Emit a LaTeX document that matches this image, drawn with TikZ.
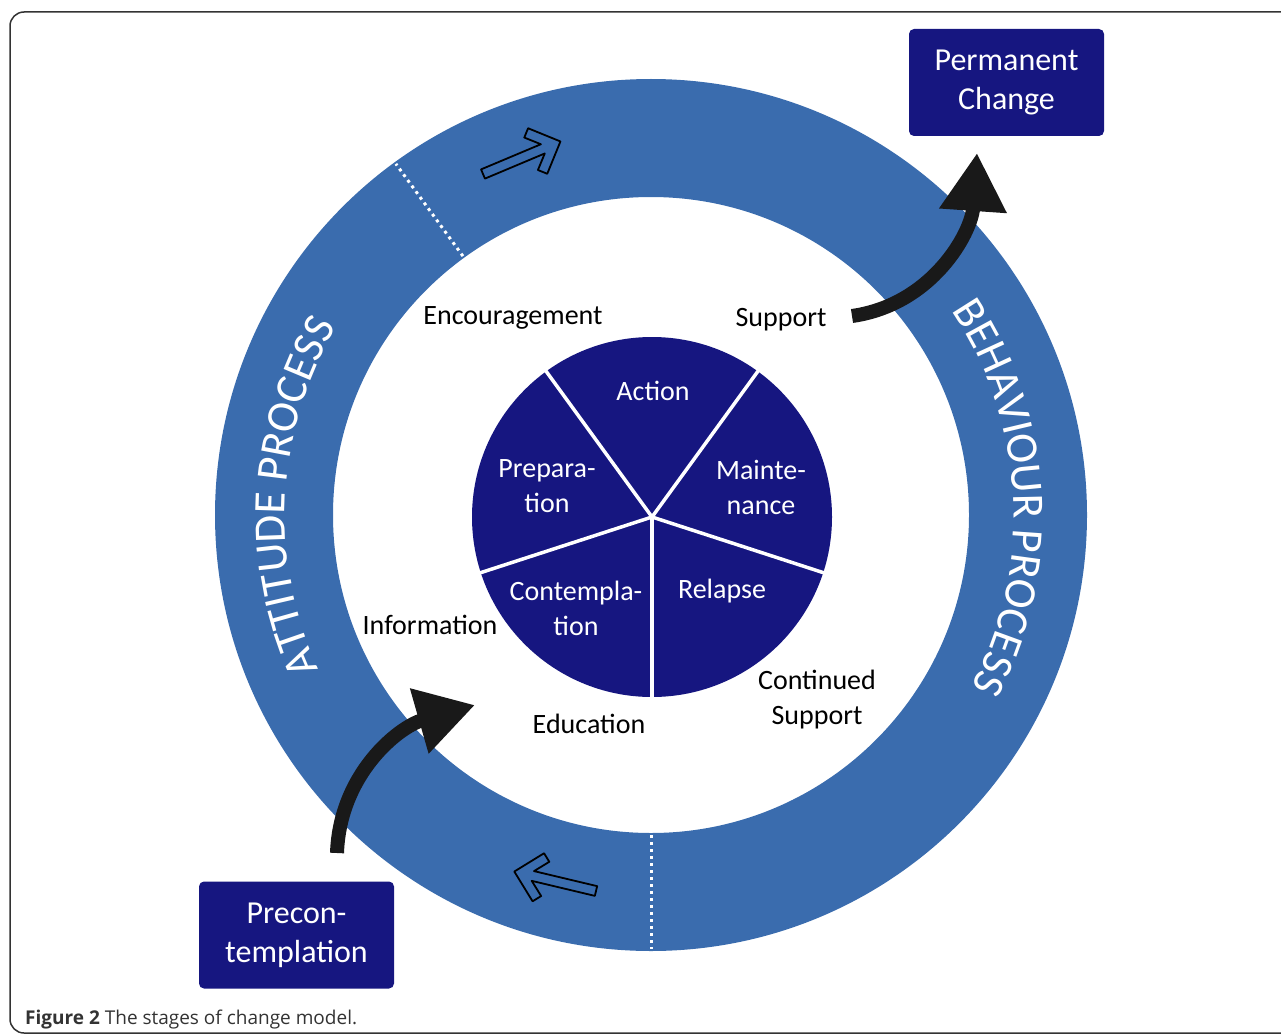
\documentclass[tikz,border=0pt]{standalone}
\usepackage{fontspec}
\setmainfont{Carlito}
\newfontfamily\capfont{Open Sans}
\usetikzlibrary{
    arrows.meta,     % Heavy triangle tips on the curved arrows.
    calc,            % Points on the ring measured from its centre.
    decorations.text % Ring titles set along the arc.
}

\definecolor{ringblue}{RGB}{58,108,174}
\definecolor{stagenavy}{RGB}{22,22,128}
\newcommand{\ringfont}{\fontsize{45}{52}\selectfont}

\tikzset{
    stagebox/.style = {fill = stagenavy, text = white, rounded corners = 5pt,
        minimum width = 195pt, minimum height = 107pt, align = center,
        font = \fontsize{32}{39}\selectfont},
    stagelabel/.style = {text = white, align = center, inner sep = 0pt,
        font = \fontsize{28}{35}\selectfont},
    helplabel/.style = {text = black, align = center, inner sep = 0pt,
        font = \fontsize{28}{35}\selectfont},
    bigarrow/.style = {line width = 14pt, draw = black!90,
        -{Triangle[length = 58pt, width = 64pt]}},
    ringsplit/.style = {draw = white, line width = 3pt,
        dash pattern = on 3pt off 4pt},
    hollowarrow/.pic = {
        \draw[fill = ringblue, draw = black, line width = 1.8pt, line join = round]
            (0,5) -- (64.9,5) -- (52.2,17.6) -- (59.3,24.7) -- (84,0)
            -- (59.3,-24.7) -- (52.2,-17.6) -- (64.9,-5) -- (0,-5) -- cycle;
    }
}

\begin{document}
\begin{tikzpicture}[%
        x = 1pt, y = -1pt,
        line cap = butt
    ]

        % Page size and the frame round the figure.
        \useasboundingbox (0,0) rectangle (1281,1035);
        \clip (0,0) rectangle (1281,1035);
        \draw[line width = 1.5pt, draw = black!80, rounded corners = 14pt]
            (10,12) rectangle (1300,1033);

        % Centres of the ring and of the pie.
        \coordinate (ctr) at (651,515);
        \coordinate (pie) at (652,517);

        % The blue ring.
        \fill[ringblue, even odd rule] (ctr) circle (436pt) (ctr) circle (318pt);

        % Dotted splits between the two processes.
        \draw[ringsplit] ($(ctr) + (126:320pt)$) -- ($(ctr) + (126:434pt)$);
        \draw[ringsplit] ($(ctr) + (270:320pt)$) -- ($(ctr) + (270:434pt)$);

        % Ring titles along the arc.
        \path[decorate, decoration = {text along path,
                text = {|\ringfont|ATTITUDE PROCESS},
                text align = center, text color = white}]
            ($(ctr) + (219:366pt)$) arc[start angle = 219, end angle = 135, radius = 366pt];
        \path[decorate, decoration = {text along path,
                text = {|\ringfont|BEHAVIOUR PROCESS},
                text align = center, text color = white}]
            ($(ctr) + (45:363pt)$) arc[start angle = 45, end angle = -39, radius = 363pt];

        % Hollow arrows showing the way round.
        \pic[rotate = 22.8] at (483,174) {hollowarrow};
        \pic[rotate = 166.6] at (596,891) {hollowarrow};

        % The pie of stages.
        \fill[stagenavy] (pie) circle (180pt);
        \foreach \ang in {54,126,198,270,342}
            \draw[white, line width = 3.5pt] (pie) -- ++(\ang:181pt);

        % Stage names in the pie.
        \node[stagelabel] (action) at (653,391) {Action};
        \node[stagelabel] (prep) at (547,486) {Prepara-\\tion};
        \node[stagelabel] (maint) at (761,487) {Mainte-\\nance};
        \node[stagelabel] (contemp) at (576,608) {Contempla-\\tion};
        \node[stagelabel] (relapse) at (722,591) {Relapse};

        % Help given at each step.
        \node[helplabel] (encourage) at (513,318) {Encouragement};
        \node[helplabel] (support) at (781,320) {Support};
        \node[helplabel] (info) at (430,625) {Information};
        \node[helplabel] (edu) at (589,724) {Education};
        \node[helplabel] (contsupport) at (817,700) {Continued\\Support};

        % Entry and exit boxes.
        \node[stagebox] (permanent) at (1006.5,82.5) {Permanent\\Change};
        \node[stagebox] (precon) at (296.5,935) {Precon-\\templation};

        % Ends of the heavy arrows.
        \coordinate (inStart) at (337,853);
        \coordinate (inTip) at (475,705);
        \coordinate (outStart) at (852,316);
        \coordinate (outTip) at (977,153);

        % Heavy arrows in and out of the cycle.
        \draw[bigarrow] (inStart) to[out = 88, in = 196] (inTip);
        \draw[bigarrow] (outStart) to[out = 8, in = 266] (outTip);

        % Caption.
        \node[anchor = base west, inner sep = 0pt, text = black!80,
              font = \capfont\fontsize{19}{23}\selectfont] (caption) at (25,1024)
            {\textbf{Figure 2} The stages of change model.};
    \end{tikzpicture}
\end{document}
